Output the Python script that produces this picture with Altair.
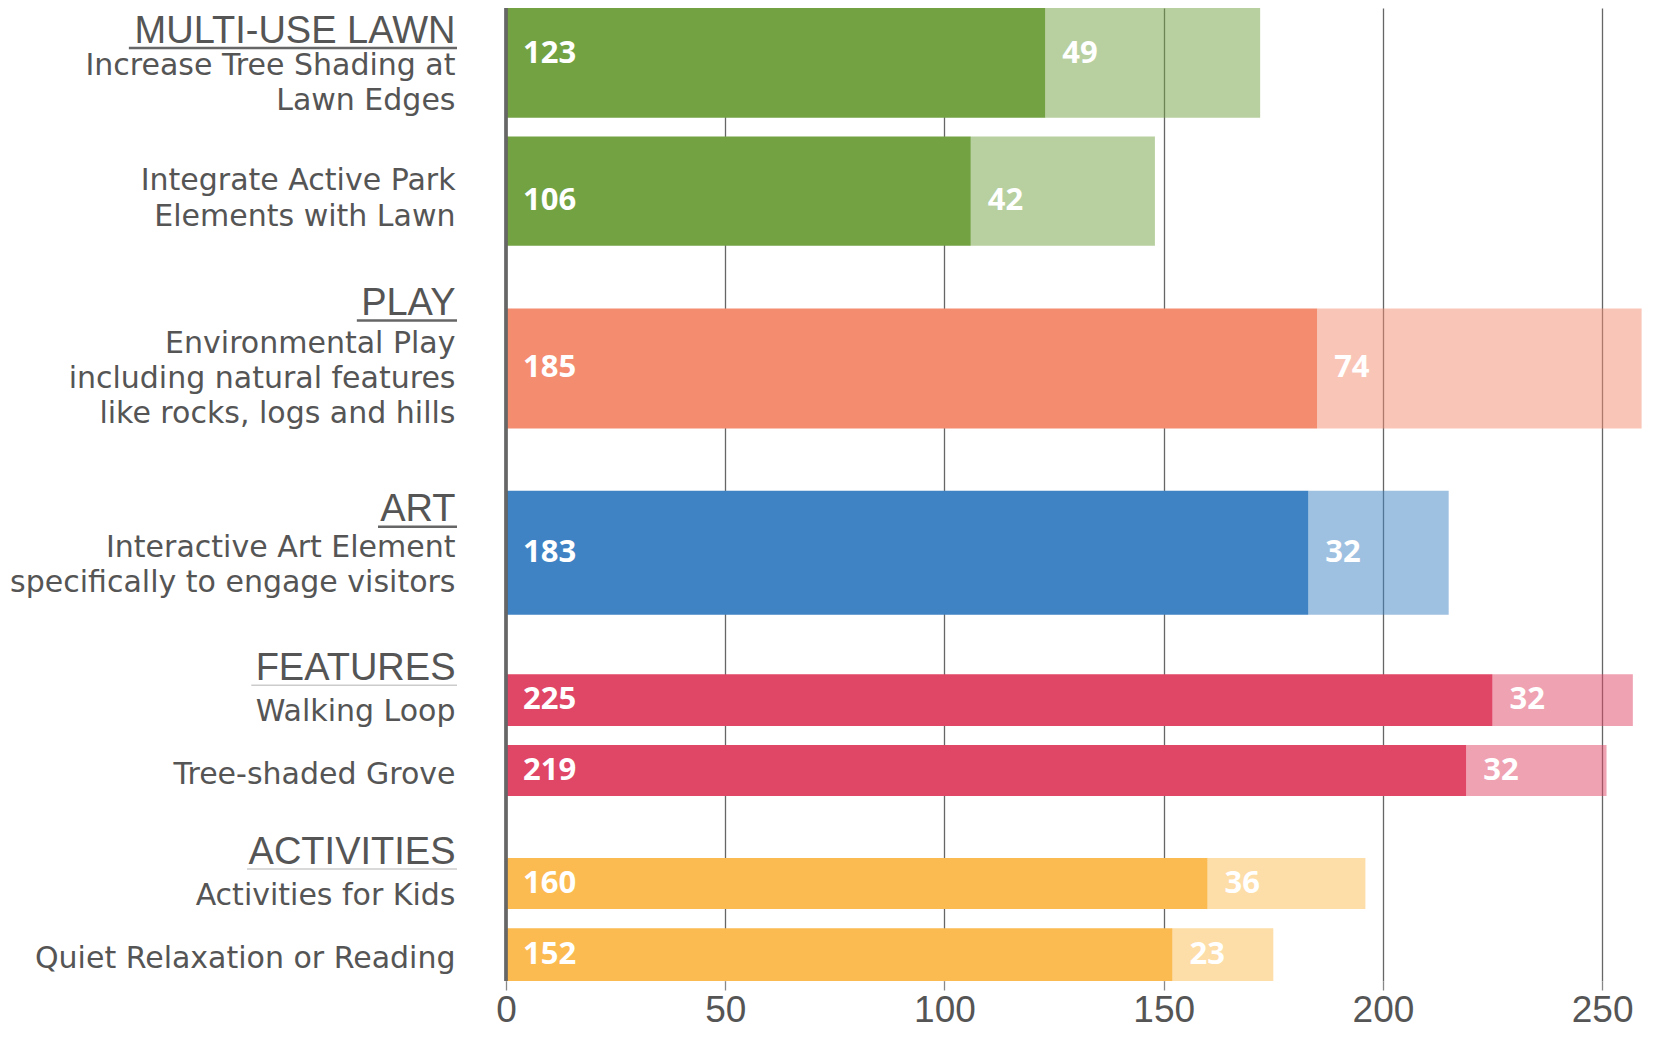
import altair as alt
import pandas as pd

# ---------------- data ----------------
GROUPS = ["MULTI-USE LAWN", "MULTI-USE LAWN", "PLAY", "ART",
          "FEATURES", "FEATURES", "ACTIVITIES", "ACTIVITIES"]
ITEM_LINES = [
    ["Increase Tree Shading at", "Lawn Edges"],
    ["Integrate Active Park", "Elements with Lawn"],
    ["Environmental Play", "including natural features", "like rocks, logs and hills"],
    ["Interactive Art Element", "specifically to engage visitors"],
    ["Walking Loop"],
    ["Tree-shaded Grove"],
    ["Activities for Kids"],
    ["Quiet Relaxation or Reading"],
]
FIRST_CHOICE = [123, 106, 185, 183, 225, 219, 160, 152]
SECOND_CHOICE = [49, 42, 74, 32, 32, 32, 36, 23]
TICKS = [0, 50, 100, 150, 200, 250]
GROUP_ORDER = ["MULTI-USE LAWN", "PLAY", "ART", "FEATURES", "ACTIVITIES"]
GROUP_COLORS = ["#72A242", "#F48C70", "#3F83C4", "#E04666", "#FBBB51"]

# ---------------- layout (separate from data) ----------------
PLOT_W = 1147
PLOT_H = 973          # drawn height in pixels
Y_UNITS = 983         # layout units spanned by the plot height
X_MAX = 261.6
LEFT_PAD = 498
BOTTOM_PAD = 52
BAR_TOP = [0, 129.7, 303.7, 487.7, 673, 744.7, 858.7, 929.7]
BAR_BOTTOM = [111, 240.3, 424.7, 613, 725.3, 796, 910.3, 983]
VALUE_DY = [-9.5, 9.5, 0, 0, 0, 0, 0, 0]
LABEL_FIRST_BASELINE = [68, 184.3, 348.7, 554.7, 720.3, 783.7, 906, 970.3]
LINE_H = 35.5
HEADER_BASELINE = [35, 310.3, 518.7, 678.7, 864.3]
HEADER_DARK_UNDERLINE = [True, True, True, False, False]
LABEL_RIGHT = -50.5
HEADER_FS = 38
PX_PER_UNIT = PLOT_W / X_MAX

ARIAL_W = {"A": 667, "C": 722, "E": 667, "F": 611, "I": 278, "L": 556, "M": 833,
           "N": 722, "P": 667, "R": 722, "S": 667, "T": 611, "U": 722, "V": 667,
           "W": 944, "Y": 667, "-": 333, " ": 278}


def text_w(s):
    return sum(ARIAL_W.get(c, 600) for c in s) / 1000.0 * HEADER_FS


# ---------------- tables ----------------
seg_rows, val_rows, line_rows = [], [], []
for i in range(len(GROUPS)):
    top, bot = BAR_TOP[i], BAR_BOTTOM[i]
    mid = (top + bot) / 2 + VALUE_DY[i]
    a, b = FIRST_CHOICE[i], SECOND_CHOICE[i]
    seg_rows.append(dict(group=GROUPS[i], segment="first", x0=0, x1=a, top=top, bottom=bot))
    seg_rows.append(dict(group=GROUPS[i], segment="second", x0=a, x1=a + b, top=top, bottom=bot))
    val_rows.append(dict(x0=0, mid=mid, label=str(a)))
    val_rows.append(dict(x0=a, mid=mid, label=str(b)))
    for k, ln in enumerate(ITEM_LINES[i]):
        line_rows.append(dict(line=ln, ly=LABEL_FIRST_BASELINE[i] + k * LINE_H))

head_rows, ul_dark, ul_light = [], [], []
for g, hb, dark in zip(GROUP_ORDER, HEADER_BASELINE, HEADER_DARK_UNDERLINE):
    head_rows.append(dict(header=g, hy=hb))
    w = text_w(g)
    r = dict(ux0=(LABEL_RIGHT - w - 1.5) / PX_PER_UNIT,
             ux1=(LABEL_RIGHT + 1.5) / PX_PER_UNIT,
             uy=hb + 5.5)
    (ul_dark if dark else ul_light).append(r)

seg_df = pd.DataFrame(seg_rows)
val_df = pd.DataFrame(val_rows)
line_df = pd.DataFrame(line_rows)
head_df = pd.DataFrame(head_rows)

xs = alt.Scale(domain=[0, X_MAX], nice=False, zero=False)
ys = alt.Scale(domain=[0, Y_UNITS], reverse=True, nice=False, zero=False)
AX = alt.Axis(values=TICKS, grid=True, gridColor="#666666", gridWidth=1.3,
              domain=False, ticks=True, tickSize=9, tickColor="#888888", tickWidth=1.3,
              labelFontSize=37, labelFont="Liberation Sans", labelColor="#555555",
              labelPadding=2, labelFlush=False, labelOverlap=False, title=None, format="d")

bars = alt.Chart(seg_df).mark_rect().encode(
    x=alt.X("x0:Q", scale=xs, axis=AX),
    x2="x1:Q",
    y=alt.Y("top:Q", scale=ys, axis=None),
    y2="bottom:Q",
    color=alt.Color("group:N", scale=alt.Scale(domain=GROUP_ORDER, range=GROUP_COLORS), legend=None),
    opacity=alt.Opacity("segment:N", scale=alt.Scale(domain=["first", "second"], range=[1.0, 0.5]),
                        legend=None),
)

zero_line = alt.Chart(seg_df).mark_rule(color="#666666", strokeWidth=2.2).encode(
    x=alt.datum(0, scale=xs, axis=AX)
)

values = alt.Chart(val_df).mark_text(
    align="left", baseline="middle", dx=17, font="Open Sans", fontWeight="bold",
    fontSize=31, color="white"
).encode(
    x=alt.X("x0:Q", scale=xs, axis=AX),
    y=alt.Y("mid:Q", scale=ys, axis=None),
    text="label:N",
)

items = alt.Chart(line_df).mark_text(
    align="right", baseline="alphabetic", font="DejaVu Sans", fontSize=30, color="#555555"
).encode(
    x=alt.value(LABEL_RIGHT),
    y=alt.Y("ly:Q", scale=ys, axis=None),
    text="line:N",
)

headers = alt.Chart(head_df).mark_text(
    align="right", baseline="alphabetic", font="Liberation Sans", fontSize=HEADER_FS,
    color="#555555"
).encode(
    x=alt.value(LABEL_RIGHT),
    y=alt.Y("hy:Q", scale=ys, axis=None),
    text="header:N",
)

u_dark = alt.Chart(pd.DataFrame(ul_dark)).mark_rule(color="#666666", strokeWidth=2.5).encode(
    x=alt.X("ux0:Q", scale=xs, axis=AX),
    x2="ux1:Q",
    y=alt.Y("uy:Q", scale=ys, axis=None),
)
u_light = alt.Chart(pd.DataFrame(ul_light)).mark_rule(color="#cccccc", strokeWidth=1.6).encode(
    x=alt.X("ux0:Q", scale=xs, axis=AX),
    x2="ux1:Q",
    y=alt.Y("uy:Q", scale=ys, axis=None),
)

chart = alt.layer(bars, zero_line, values, items, headers, u_dark, u_light).properties(
    width=PLOT_W,
    height=PLOT_H,
    autosize=alt.AutoSizeParams(type="none"),
    padding={"left": LEFT_PAD, "top": 0, "right": 0, "bottom": BOTTOM_PAD},
    background="white",
).configure_view(stroke=None)

chart.save("out.html", embed_options={"renderer": "svg", "actions": False})
